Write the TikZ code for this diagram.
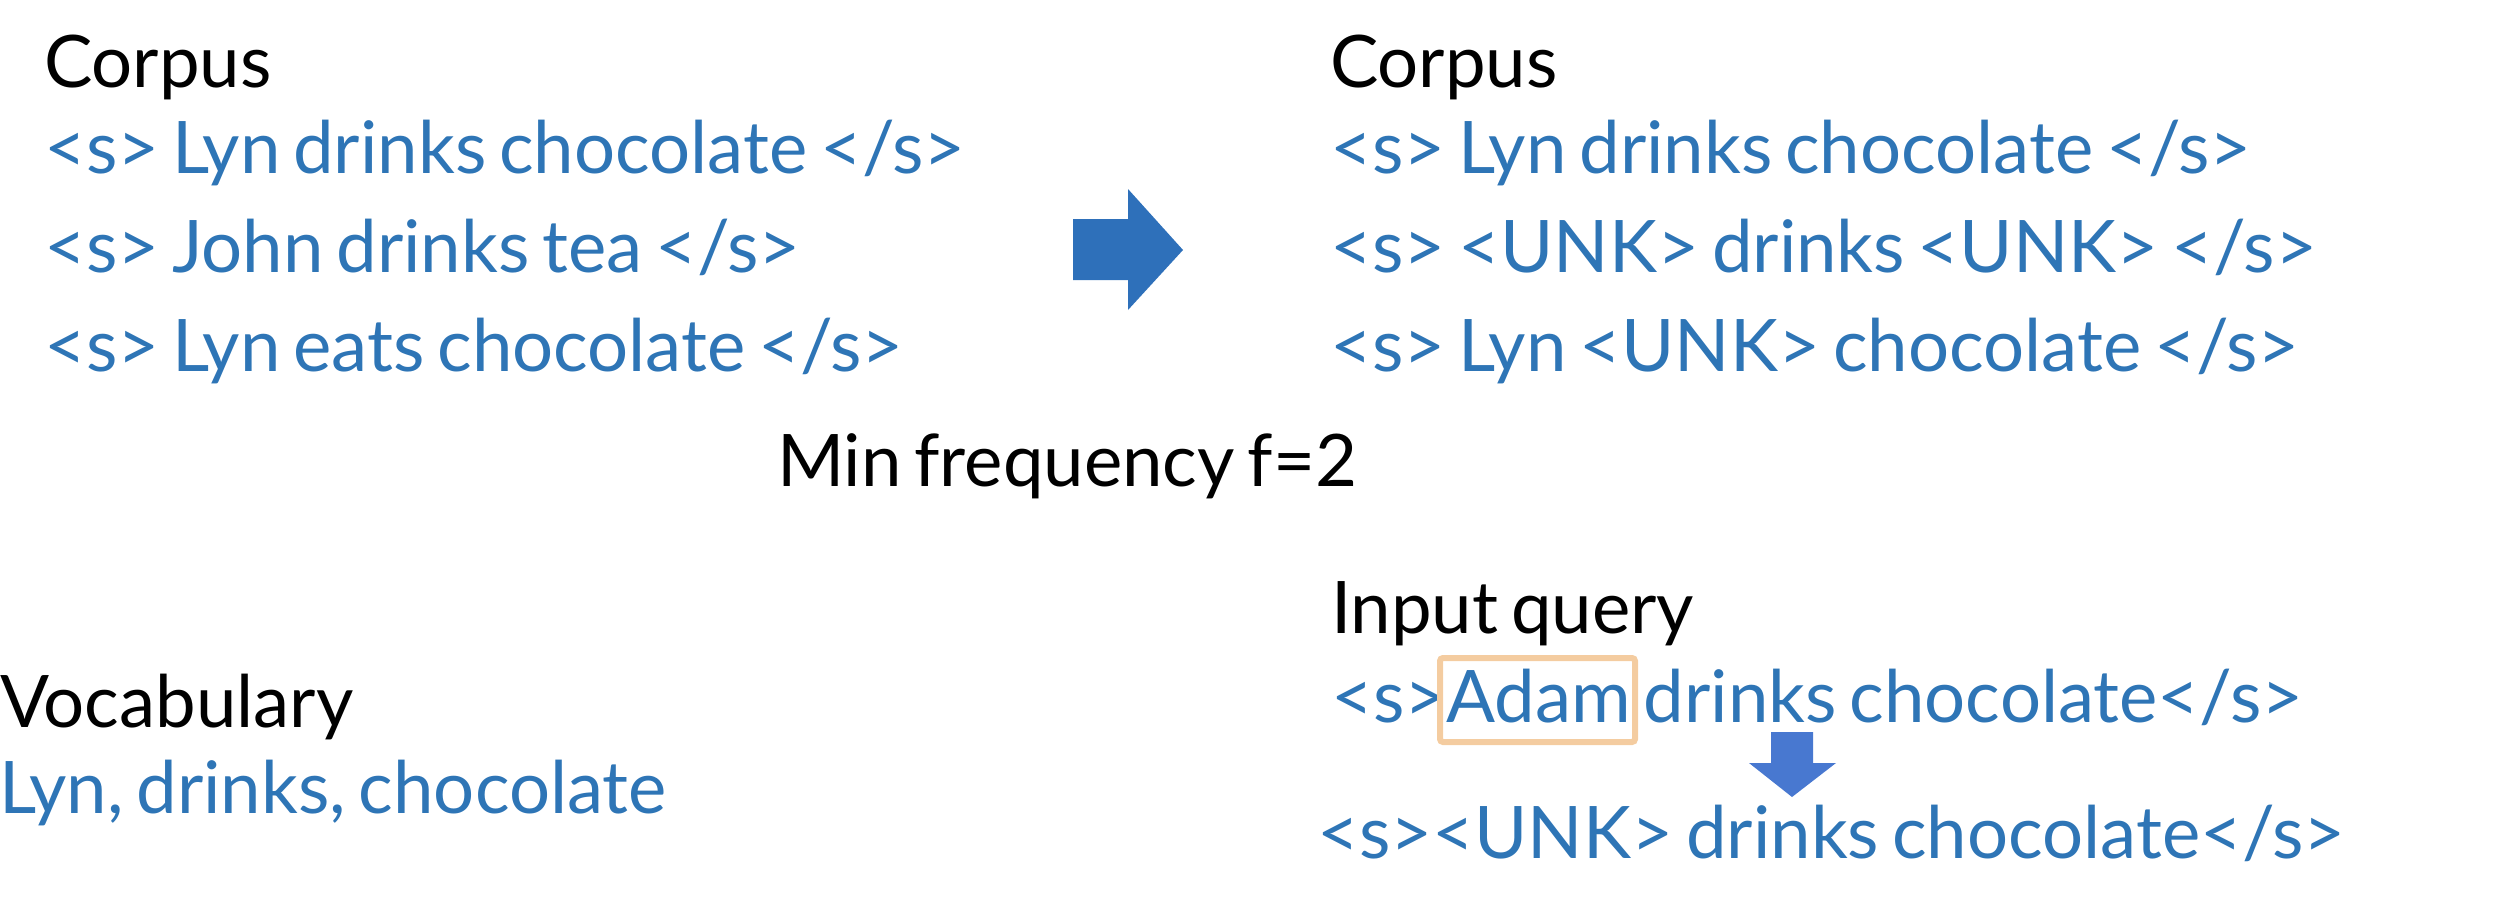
\documentclass[tikz,border=0pt]{standalone}
\usepackage{fontspec}
\setmainfont{Lato}
\definecolor{txtblue}{HTML}{2E75B6}
\definecolor{bigarrow}{HTML}{2E70BA}
\definecolor{smallarrow}{HTML}{4878D0}
\definecolor{boxorange}{HTML}{F4CCA0}
\begin{document}
\begin{tikzpicture}[x=1pt,y=-1pt,
  lbl/.style={anchor=base west, inner sep=0pt, outer sep=0pt, font={\fontsize{72.5}{87}\selectfont\spaceskip=12.8pt\relax}, text=black},
  blu/.style={lbl, text=txtblue}]
\useasboundingbox (0,0) rectangle (2498,900);
% left corpus
\node[lbl] (corpusL) at (44,87) {Corpus};
\node[blu] (l1) at (44,173) {<s> Lyn drinks chocolate </s>};
\node[blu] (l2) at (44,272) {<s> John drinks tea </s>};
\node[blu] (l3) at (44,371) {<s> Lyn eats chocolate </s>};
% right corpus
\node[lbl] (corpusR) at (1330,87) {Corpus};
\node[blu] (r1) at (1330,173) {<s> Lyn drinks chocolate </s>};
\node[blu] (r2) at (1330,272) {<s> <UNK> drinks <UNK> </s>};
\node[blu] (r3) at (1330,371) {<s> Lyn <UNK> chocolate </s>};
% big arrow
\fill[bigarrow] (1073,219) -- (1128,219) -- (1128,189) -- (1183,250) -- (1128,310) -- (1128,280) -- (1073,280) -- cycle;
% min frequency
\node[lbl] (minf) at (777,486) {Min frequency f=2};
% vocabulary
\node[lbl] (vocab) at (0,727) {Vocabulary};
\node[blu] (vlist) at (-1,813) {Lyn, drinks, chocolate};
% input query
\node[lbl] (iq) at (1331,633) {Input query};
\node[blu] (q1) at (1331,722) {<s>Adam drinks chocolate</s>};
\node[draw=boxorange, line width=6pt, rounded corners=3pt, minimum width=195pt, minimum height=84pt, inner sep=0pt] (adambox) at (1537.5,700) {};
% small arrow
\fill[smallarrow] (1771,732) -- (1813,732) -- (1813,763) -- (1836,763) -- (1792,797) -- (1749,763) -- (1771,763) -- cycle;
\node[blu] (q2) at (1317,858) {<s><UNK> drinks chocolate</s>};
\end{tikzpicture}
\end{document}
